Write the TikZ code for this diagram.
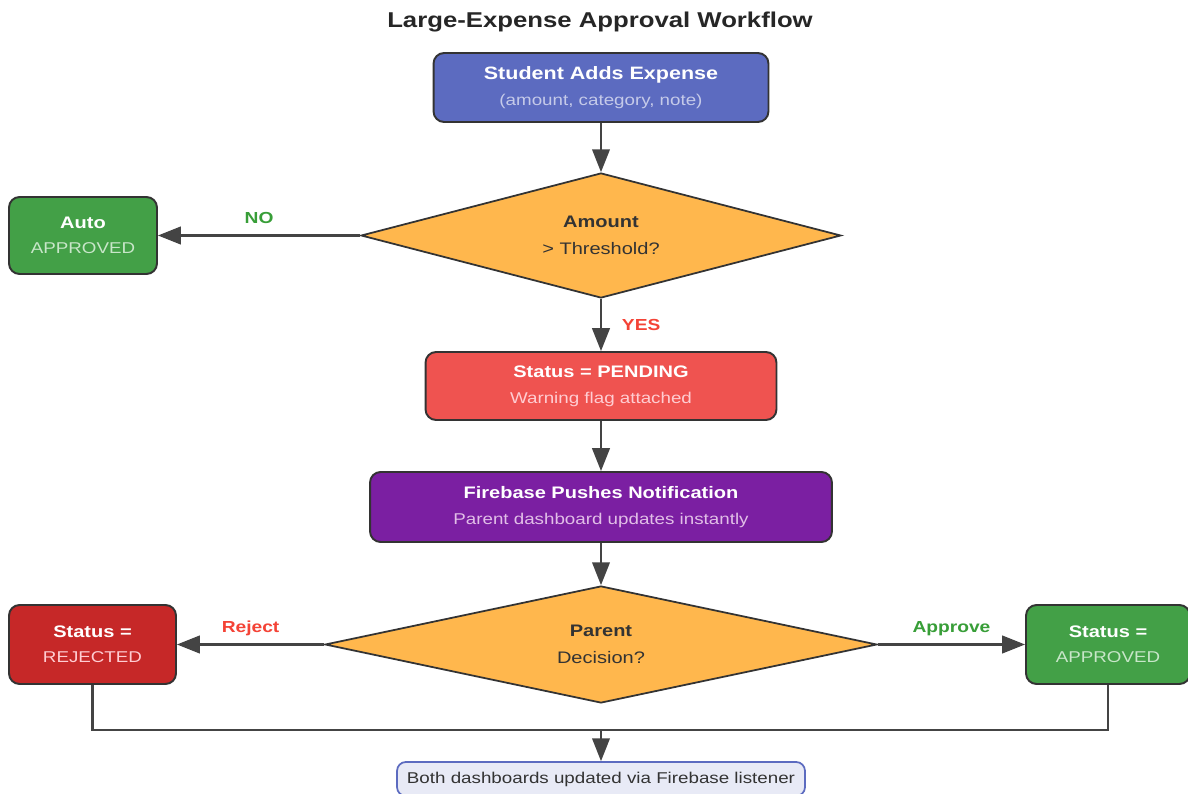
\documentclass[tikz,border=0pt]{standalone}
\usepackage{fontspec}
\setmainfont{Liberation Sans}[FakeStretch=1.2]
\usepackage{tikz}
\usetikzlibrary{positioning}
\usetikzlibrary{arrows.meta}
\usetikzlibrary{shapes.geometric}
\definecolor{edge}{RGB}{51,51,51}
\definecolor{arrowgray}{RGB}{68,68,68}
\definecolor{textdark}{RGB}{51,51,51}
\definecolor{indigo}{RGB}{92,107,192}
\definecolor{indigolight}{RGB}{197,202,233}
\definecolor{amber}{RGB}{255,183,77}
\definecolor{okgreen}{RGB}{67,160,71}
\definecolor{okgreenlight}{RGB}{200,230,201}
\definecolor{pendred}{RGB}{239,83,80}
\definecolor{pinklight}{RGB}{255,205,210}
\definecolor{fbpurple}{RGB}{123,31,162}
\definecolor{purplelight}{RGB}{225,190,231}
\definecolor{rejred}{RGB}{198,40,40}
\definecolor{donefill}{RGB}{232,234,246}
\definecolor{yesred}{RGB}{244,67,54}
\definecolor{nogreen}{RGB}{56,158,56}

\newcommand{\subline}[2]{{\fontsize{8.9}{11}\selectfont\mdseries\color{#1}#2}}

\begin{document}
\begin{tikzpicture}[x=0.02cm, y=-0.02cm,
    every node/.style={font=\fontsize{9.5}{12}\selectfont},
    procbox/.style={draw=edge, line width=1.1pt, rounded corners=6pt, align=center, text=white, font=\fontsize{9.5}{12}\selectfont\bfseries},
    decision/.style={diamond, draw=edge, line width=1pt, fill=amber, align=center, inner sep=0pt, text=textdark},
    flowarrow/.style={draw=arrowgray, line width=1.2pt, -{Triangle[length=13pt, width=10pt]}},
    branchlbl/.style={font=\fontsize{9.1}{11}\selectfont\bfseries}
]
    \useasboundingbox[fill=white] (0,0) rectangle (1188,794);

    % Title
    \node[font=\fontsize{12.2}{14}\selectfont\bfseries, text=black!85] (title) at (600,22) {Large-Expense Approval Workflow};

    % Main column
    \node[procbox, fill=indigo, minimum width=6.7cm, minimum height=1.38cm, font=\fontsize{10.2}{12}\selectfont\bfseries] (student) at (601,87.5)
        {Student Adds Expense\\[3pt]\subline{indigolight}{(amount, category, note)}};
    \node[decision, aspect=3.84, minimum width=9.6cm, minimum height=2.5cm] (amount) at (601,235.5)
        {\textbf{Amount}\\[3pt]> Threshold?};
    \node[procbox, fill=okgreen, minimum width=2.96cm, minimum height=1.54cm] (auto) at (83,235.5)
        {Auto\\[2pt]\subline{okgreenlight}{APPROVED}};
    \node[procbox, fill=pendred, minimum width=7.02cm, minimum height=1.36cm] (pending) at (601,386)
        {Status = PENDING\\[3pt]\subline{pinklight}{Warning flag attached}};
    \node[procbox, fill=fbpurple, minimum width=9.24cm, minimum height=1.4cm] (firebase) at (601,507)
        {Firebase Pushes Notification\\[3pt]\subline{purplelight}{Parent dashboard updates instantly}};
    \node[decision, aspect=4.72, minimum width=11.04cm, minimum height=2.34cm] (parent) at (601,644.5)
        {\textbf{Parent}\\[3pt]Decision?};

    % Outcomes
    \node[procbox, fill=rejred, minimum width=3.34cm, minimum height=1.58cm] (rejected) at (92.5,644.5)
        {Status =\\[2pt]\subline{pinklight}{REJECTED}};
    \node[procbox, fill=okgreen, minimum width=3.28cm, minimum height=1.58cm] (approved) at (1108,644.5)
        {Status =\\[2pt]\subline{okgreenlight}{APPROVED}};
    \node[draw=indigo, fill=donefill, line width=1pt, rounded corners=5pt, minimum width=8.16cm, minimum height=0.68cm, text=textdark, font=\fontsize{8.9}{11}\selectfont] (done) at (601,779)
        {Both dashboards updated via Firebase listener};
    \coordinate (merge) at (601,730);

    % Connectors
    \draw[flowarrow] (student) -- (amount);
    \draw[flowarrow] (amount.west) -- node[midway, above=3pt, branchlbl, text=nogreen] {NO} (auto.east);
    \draw[flowarrow] (amount.south) -- node[midway, right=8pt, branchlbl, text=yesred] {YES} (pending.north);
    \draw[flowarrow] (pending) -- (firebase);
    \draw[flowarrow] (firebase) -- (parent);
    \draw[flowarrow] (parent.west) -- node[midway, above=1pt, branchlbl, text=yesred] {Reject} (rejected.east);
    \draw[flowarrow] (parent.east) -- node[midway, above=1pt, branchlbl, text=nogreen] {Approve} (approved.west);
    \draw[draw=arrowgray, line width=1.2pt] (rejected.south) -- (rejected.south |- merge) -- (approved.south |- merge) -- (approved.south);
    \draw[flowarrow] (merge) -- (done.north);

\end{tikzpicture}
\end{document}
